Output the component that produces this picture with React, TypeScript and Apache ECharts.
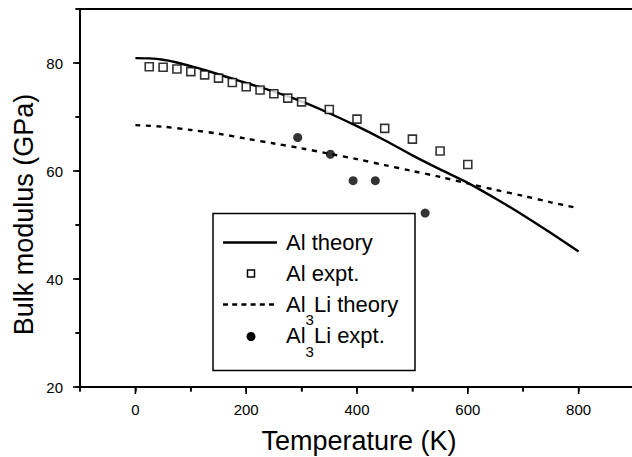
import React, { useEffect, useRef } from "react";
import * as echarts from "echarts";

// ---- Data ----
const alTheoryT = [0, 25, 50, 75, 100, 125, 150, 175, 200, 250, 300, 350, 400, 450, 500, 550, 600, 650, 700, 750, 800];
const alTheoryB = [80.9, 80.85, 80.6, 80.1, 79.4, 78.7, 77.9, 77.1, 76.3, 74.7, 72.9, 70.7, 68.3, 65.7, 62.9, 60.3, 57.8, 54.9, 51.8, 48.5, 45.1];

const alExptT = [25, 50, 75, 100, 125, 150, 175, 200, 225, 250, 275, 300, 350, 400, 450, 500, 550, 600];
const alExptB = [79.3, 79.2, 78.9, 78.4, 77.8, 77.2, 76.4, 75.6, 75.0, 74.3, 73.5, 72.8, 71.4, 69.6, 67.9, 65.9, 63.7, 61.2];

const al3LiTheoryT = [0, 50, 100, 150, 200, 250, 300, 350, 400, 450, 500, 550, 600, 650, 700, 750, 800];
const al3LiTheoryB = [68.5, 68.2, 67.6, 66.9, 66.0, 65.1, 64.2, 63.2, 62.2, 61.1, 60.0, 58.9, 57.7, 56.5, 55.4, 54.2, 53.1];

const al3LiExptT = [293, 352, 393, 433, 523];
const al3LiExptB = [66.2, 63.1, 58.2, 58.2, 52.2];

const xTickLabels = [0, 200, 400, 600, 800];
const xMinorTicks = [-100, 100, 300, 500, 700];
const yTickLabels = [20, 40, 60, 80];
const yMinorTicks = [30, 50, 70, 90];

const xTitle = "Temperature (K)";
const yTitle = "Bulk modulus (GPa)";

const FONT = "'Liberation Sans', Arial, Helvetica, sans-serif";

const X_MIN = -100;
const X_MAX = 900;
const Y_MIN = 20;
const Y_MAX = 90;
const G_LEFT = 80;
const G_TOP = 9;
const G_RIGHT = -2;
const G_BOTTOM = 70;
const W = 632;
const H = 457;

function zip(a: number[], b: number[]) {
  return a.map((v, i) => [v, b[i]]);
}

function measure(text: string, size: number) {
  const c = document.createElement("canvas").getContext("2d");
  if (!c) return text.length * size * 0.55;
  c.font = `${size}px ${FONT}`;
  return c.measureText(text).width;
}

export default function App() {
  const ref = useRef<HTMLDivElement>(null);

  useEffect(() => {
    document.body.style.margin = "0";
    if (!ref.current) return;
    const chart = echarts.init(ref.current, undefined, { renderer: "svg" });

    const axisLineStyle = { color: "#000", width: 1.8 };
    const tickLine = { color: "#000", width: 1.5 };
    const labelStyle = { color: "#000", fontSize: 15, fontFamily: FONT };

    // legend geometry
    const lgX = 286;
    const rows = [242.5, 273.5, 304.5, 335.5];
    const mainSize = 22;
    const subSize = 15;
    const wAl = measure("Al", mainSize);
    const w3 = measure("3", subSize);
    const txt = (text: string, x: number, y: number, size: number) => ({
      type: "text",
      x,
      y,
      z: 101,
      style: {
        text,
        fill: "#000",
        font: `${size}px ${FONT}`,
        textAlign: "left",
        textVerticalAlign: "middle",
      },
    });

    // tick marks from the axis ranges and the grid box
    const gw = W - G_LEFT - G_RIGHT;
    const gh = H - G_TOP - G_BOTTOM;
    const toX = (v: number) => G_LEFT + ((v - X_MIN) / (X_MAX - X_MIN)) * gw;
    const toY = (v: number) => G_TOP + gh - ((v - Y_MIN) / (Y_MAX - Y_MIN)) * gh;
    const axisY = toY(Y_MIN);
    const axisX = toX(X_MIN);
    const tickEls: any[] = [];
    const xTick = (v: number, len: number) => {
      const px = toX(v);
      tickEls.push({
        type: "polyline",
        z: 150,
        silent: true,
        shape: { points: [[px, axisY], [px, axisY + len]] },
        style: { stroke: "#000", lineWidth: 1.6, fill: null },
      });
    };
    const yTick = (v: number, len: number) => {
      const py = toY(v);
      tickEls.push({
        type: "polyline",
        z: 150,
        silent: true,
        shape: { points: [[axisX - len, py], [axisX, py]] },
        style: { stroke: "#000", lineWidth: 1.6, fill: null },
      });
    };
    xTickLabels.forEach((v) => xTick(v, 7));
    xMinorTicks.forEach((v) => xTick(v, 4.5));
    yTickLabels.forEach((v) => yTick(v, 7));
    yMinorTicks.forEach((v) => yTick(v, 4.5));

    const graphicEls: any[] = [
      {
        type: "text",
        x: 359,
        y: 441,
        style: {
          text: xTitle,
          fill: "#000",
          font: `27px ${FONT}`,
          textAlign: "center",
          textVerticalAlign: "middle",
        },
      },
      {
        type: "text",
        x: 24,
        y: 214.5,
        rotation: Math.PI / 2,
        style: {
          text: yTitle,
          fill: "#000",
          font: `27px ${FONT}`,
          textAlign: "center",
          textVerticalAlign: "middle",
        },
      },
      // legend box
      {
        type: "rect",
        z: 100,
        shape: { x: 213, y: 213.5, width: 202, height: 157 },
        style: { fill: "#fff", stroke: "#000", lineWidth: 1.5 },
      },
      {
        type: "line",
        z: 101,
        shape: { x1: 223, y1: rows[0], x2: 277, y2: rows[0] },
        style: { stroke: "#000", lineWidth: 2.4 },
      },
      {
        type: "rect",
        z: 101,
        shape: { x: 247.5, y: rows[1] - 3.5, width: 7, height: 7 },
        style: { fill: "#fff", stroke: "#000", lineWidth: 1.5 },
      },
      {
        type: "line",
        z: 101,
        shape: { x1: 223, y1: rows[2], x2: 278, y2: rows[2] },
        style: { stroke: "#000", lineWidth: 2.4, lineDash: [5, 4.2] },
      },
      {
        type: "circle",
        z: 101,
        shape: { cx: 251, cy: rows[3] + 1, r: 4.5 },
        style: { fill: "#000" },
      },
      txt("Al theory", lgX, rows[0], mainSize),
      txt("Al expt.", lgX, rows[1], mainSize),
      txt("Al", lgX, rows[2], mainSize),
      txt("3", lgX + wAl, rows[2] + 15, subSize),
      txt("Li theory", lgX + wAl + w3, rows[2], mainSize),
      txt("Al", lgX, rows[3], mainSize),
      txt("3", lgX + wAl, rows[3] + 16, subSize),
      txt("Li expt.", lgX + wAl + w3, rows[3], mainSize),
      ...tickEls,
    ];

    const option: any = {
      animation: false,
      grid: {
        left: G_LEFT,
        top: G_TOP,
        right: G_RIGHT,
        bottom: G_BOTTOM,
        containLabel: false,
        outerBoundsMode: "none",
        show: true,
        borderColor: "#000",
        borderWidth: 1.8,
        backgroundColor: "transparent",
      },
      xAxis: {
        type: "value",
        min: X_MIN,
        max: X_MAX,
        interval: 100,
        position: "bottom",
        axisLine: { show: true, onZero: false, lineStyle: axisLineStyle },
        axisTick: { show: true, inside: false, length: 4.5, lineStyle: tickLine },
        axisLabel: {
          ...labelStyle,
          margin: 15,
          formatter: (v: number) => (xTickLabels.includes(v) ? String(v) : ""),
        },
        splitLine: { show: false },
      },
      yAxis: {
        type: "value",
        min: Y_MIN,
        max: Y_MAX,
        interval: 10,
        position: "left",
        axisLine: { show: true, onZero: false, lineStyle: axisLineStyle },
        axisTick: { show: true, inside: false, length: 4.5, lineStyle: tickLine },
        axisLabel: {
          ...labelStyle,
          margin: 17,
          formatter: (v: number) => (yTickLabels.includes(v) ? String(v) : ""),
        },
        splitLine: { show: false },
      },
      series: [
        {
          name: "Al theory",
          type: "line",
          data: zip(alTheoryT, alTheoryB),
          showSymbol: false,
          symbol: "none",
          smooth: 0.3,
          lineStyle: { color: "#000", width: 2.4 },
          z: 3,
        },
        {
          name: "Al3Li theory",
          type: "line",
          data: zip(al3LiTheoryT, al3LiTheoryB),
          showSymbol: false,
          symbol: "none",
          smooth: 0.3,
          lineStyle: { color: "#000", width: 2.4, type: [5, 5.5] },
          z: 3,
        },
        {
          name: "Al expt.",
          type: "scatter",
          data: zip(alExptT, alExptB),
          symbol: "rect",
          symbolSize: 8,
          itemStyle: { color: "#fff", borderColor: "#000", borderWidth: 1.6 },
          z: 4,
        },
        {
          name: "Al3Li expt.",
          type: "scatter",
          data: zip(al3LiExptT, al3LiExptB),
          symbol: "circle",
          symbolSize: 9,
          itemStyle: { color: "#000" },
          z: 4,
        },
      ],
      graphic: { elements: graphicEls },
    };

    chart.setOption(option);

    return () => chart.dispose();
  }, []);

  return (
    <div
      ref={ref}
      style={{ position: "absolute", left: 0, top: 0, width: W, height: H, background: "#fff" }}
    />
  );
}
